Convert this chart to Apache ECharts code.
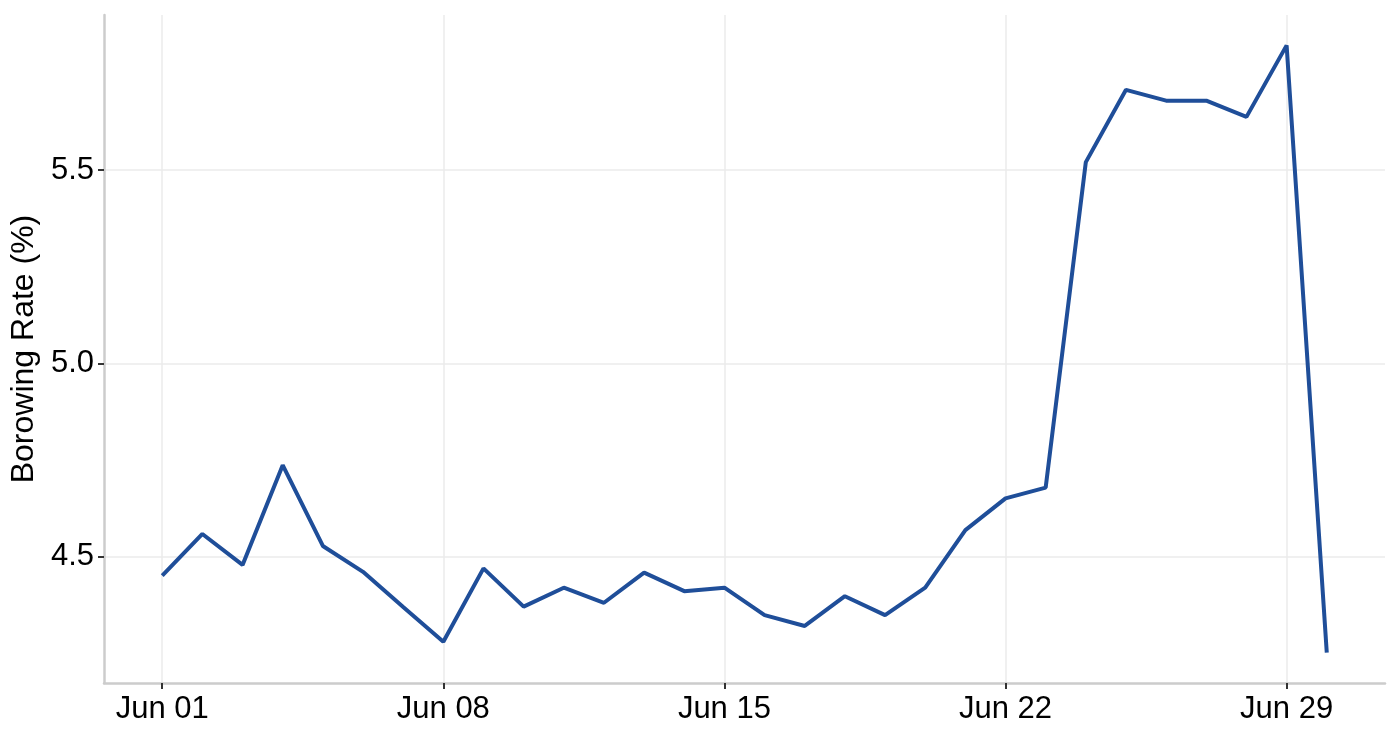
<!DOCTYPE html>
<html>
<head>
<meta charset="utf-8">
<script src="https://cdn.jsdelivr.net/npm/echarts@6/dist/echarts.min.js"></script>
<style>
    html, body { margin: 0; padding: 0; background: #fff; }
    #chart { width: 1400px; height: 740px; }
</style>
</head>
<body>
<div id="chart"></div>
<script>
const monthName = "Jun";
const dayOfMonth = [1, 2, 3, 4, 5, 6, 7, 8, 9, 10, 11, 12, 13, 14, 15, 16, 17, 18, 19, 20, 21, 22, 23, 24, 25, 26, 27, 28, 29, 30];
const borrowRate = [4.451, 4.559, 4.479, 4.737, 4.528, 4.461, 4.370, 4.280, 4.470, 4.371, 4.420, 4.381, 4.459, 4.411, 4.420,
    4.349, 4.321, 4.398, 4.349, 4.420, 4.569, 4.651, 4.679, 5.521, 5.708, 5.680, 5.680, 5.638, 5.823, 4.252];
const xTickDays = [1, 8, 15, 22, 29];
const yTicks = [4.5, 5.0, 5.5];

(function() {
    let myChart = echarts.init(document.getElementById("chart"));

    // 5% padding on both axes, like the original plot
    let xMin = Math.min(...dayOfMonth), xMax = Math.max(...dayOfMonth);
    let yMin = Math.min(...borrowRate), yMax = Math.max(...borrowRate);
    let xPad = (xMax - xMin) * 0.05, yPad = (yMax - yMin) * 0.05;

    let option = {
        animation: false,
        textStyle: {
            fontFamily: "Liberation Sans, Arial, sans-serif"
        },
        grid: {
            left: 104,
            right: 15,
            top: 15,
            bottom: 57,
            containLabel: false,
            outerBoundsMode: "none"
        },
        xAxis: {
            type: "value",
            min: xMin - xPad,
            max: xMax + xPad,
            axisLine: {
                show: true,
                onZero: false,
                lineStyle: { color: "#cccccc", width: 2.5 }
            },
            axisTick: {
                show: true,
                length: 6,
                customValues: xTickDays,
                lineStyle: { color: "#333333", width: 2 }
            },
            axisLabel: {
                customValues: xTickDays,
                color: "#000",
                fontSize: 31,
                margin: 11,
                formatter: function(v) {
                    return monthName + " " + String(v).padStart(2, "0");
                }
            },
            splitLine: {
                show: true,
                lineStyle: { color: "#ebebeb", width: 1.5 }
            }
        },
        yAxis: {
            type: "value",
            min: yMin - yPad,
            max: yMax + yPad,
            name: "Borowing Rate (%)",
            nameLocation: "middle",
            nameGap: 62,
            nameTextStyle: {
                color: "#000",
                fontSize: 32
            },
            axisLine: {
                show: true,
                onZero: false,
                lineStyle: { color: "#cccccc", width: 2.5 }
            },
            axisTick: {
                show: true,
                length: 6,
                customValues: yTicks,
                lineStyle: { color: "#333333", width: 2 }
            },
            axisLabel: {
                customValues: yTicks,
                color: "#000",
                fontSize: 31,
                margin: 10,
                formatter: function(v) {
                    return v.toFixed(1);
                }
            },
            splitLine: {
                show: true,
                lineStyle: { color: "#ebebeb", width: 1.5 }
            }
        },
        series: [{
            type: "line",
            data: dayOfMonth.map(function(d, i) { return [d, borrowRate[i]]; }),
            showSymbol: false,
            lineStyle: {
                color: "#1f4e99",
                width: 4
            },
            itemStyle: { color: "#1f4e99" }
        }]
    };
    myChart.setOption(option);
    window.addEventListener("resize", function() {
        myChart.resize();
    });
})();
</script>
</body>
</html>
